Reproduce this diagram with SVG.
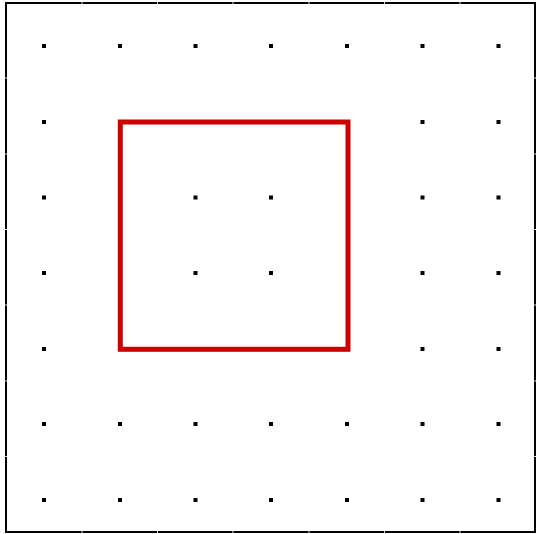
<svg xmlns="http://www.w3.org/2000/svg" width="540" height="534" viewBox="0 0 540 534">
<style>
.dot{fill:#000}
.tick{stroke:#d8d8d8;stroke-width:1}
</style>
<defs><rect id="d" class="dot" x="-2" y="-2" width="4" height="4"/></defs>
<rect x="0" y="0" width="540" height="534" fill="#fff"/>
<g id="frame">
<rect x="6" y="3" width="529" height="529" fill="none" stroke="#000" stroke-width="2"/>
<g class="tick">
<line x1="82" y1="2" x2="82" y2="4"/><line x1="157.5" y1="2" x2="157.5" y2="4"/><line x1="233" y1="2" x2="233" y2="4"/><line x1="309" y1="2" x2="309" y2="4"/><line x1="384.5" y1="2" x2="384.5" y2="4"/><line x1="460" y1="2" x2="460" y2="4"/>
<line x1="82" y1="531" x2="82" y2="533"/><line x1="157.5" y1="531" x2="157.5" y2="533"/><line x1="233" y1="531" x2="233" y2="533"/><line x1="309" y1="531" x2="309" y2="533"/><line x1="384.5" y1="531" x2="384.5" y2="533"/><line x1="460" y1="531" x2="460" y2="533"/>
<line x1="5" y1="78" x2="7" y2="78"/><line x1="5" y1="154" x2="7" y2="154"/><line x1="5" y1="229.5" x2="7" y2="229.5"/><line x1="5" y1="305" x2="7" y2="305"/><line x1="5" y1="381" x2="7" y2="381"/><line x1="5" y1="456.5" x2="7" y2="456.5"/>
<line x1="534" y1="78" x2="536" y2="78"/><line x1="534" y1="154" x2="536" y2="154"/><line x1="534" y1="229.5" x2="536" y2="229.5"/><line x1="534" y1="305" x2="536" y2="305"/><line x1="534" y1="381" x2="536" y2="381"/><line x1="534" y1="456.5" x2="536" y2="456.5"/>
</g>
</g>
<g id="dots">
<use href="#d" x="44" y="46"/><use href="#d" x="120" y="46"/><use href="#d" x="195.5" y="46"/><use href="#d" x="271" y="46"/><use href="#d" x="347" y="46"/><use href="#d" x="422.5" y="46"/><use href="#d" x="498.5" y="46"/>
<use href="#d" x="44" y="122"/><use href="#d" x="422.5" y="122"/><use href="#d" x="498.5" y="122"/>
<use href="#d" x="44" y="197.5"/><use href="#d" x="195.5" y="197.5"/><use href="#d" x="271" y="197.5"/><use href="#d" x="422.5" y="197.5"/><use href="#d" x="498.5" y="197.5"/>
<use href="#d" x="44" y="273"/><use href="#d" x="195.5" y="273"/><use href="#d" x="271" y="273"/><use href="#d" x="422.5" y="273"/><use href="#d" x="498.5" y="273"/>
<use href="#d" x="44" y="349"/><use href="#d" x="422.5" y="349"/><use href="#d" x="498.5" y="349"/>
<use href="#d" x="44" y="424"/><use href="#d" x="120" y="424"/><use href="#d" x="195.5" y="424"/><use href="#d" x="271" y="424"/><use href="#d" x="347" y="424"/><use href="#d" x="422.5" y="424"/><use href="#d" x="498.5" y="424"/>
<use href="#d" x="44" y="500"/><use href="#d" x="120" y="500"/><use href="#d" x="195.5" y="500"/><use href="#d" x="271" y="500"/><use href="#d" x="347" y="500"/><use href="#d" x="422.5" y="500"/><use href="#d" x="498.5" y="500"/>
</g>
<g id="square">
<rect x="120.3" y="122" width="227.7" height="227.3" fill="none" stroke="#cc0000" stroke-width="5"/>
</g>
</svg>
